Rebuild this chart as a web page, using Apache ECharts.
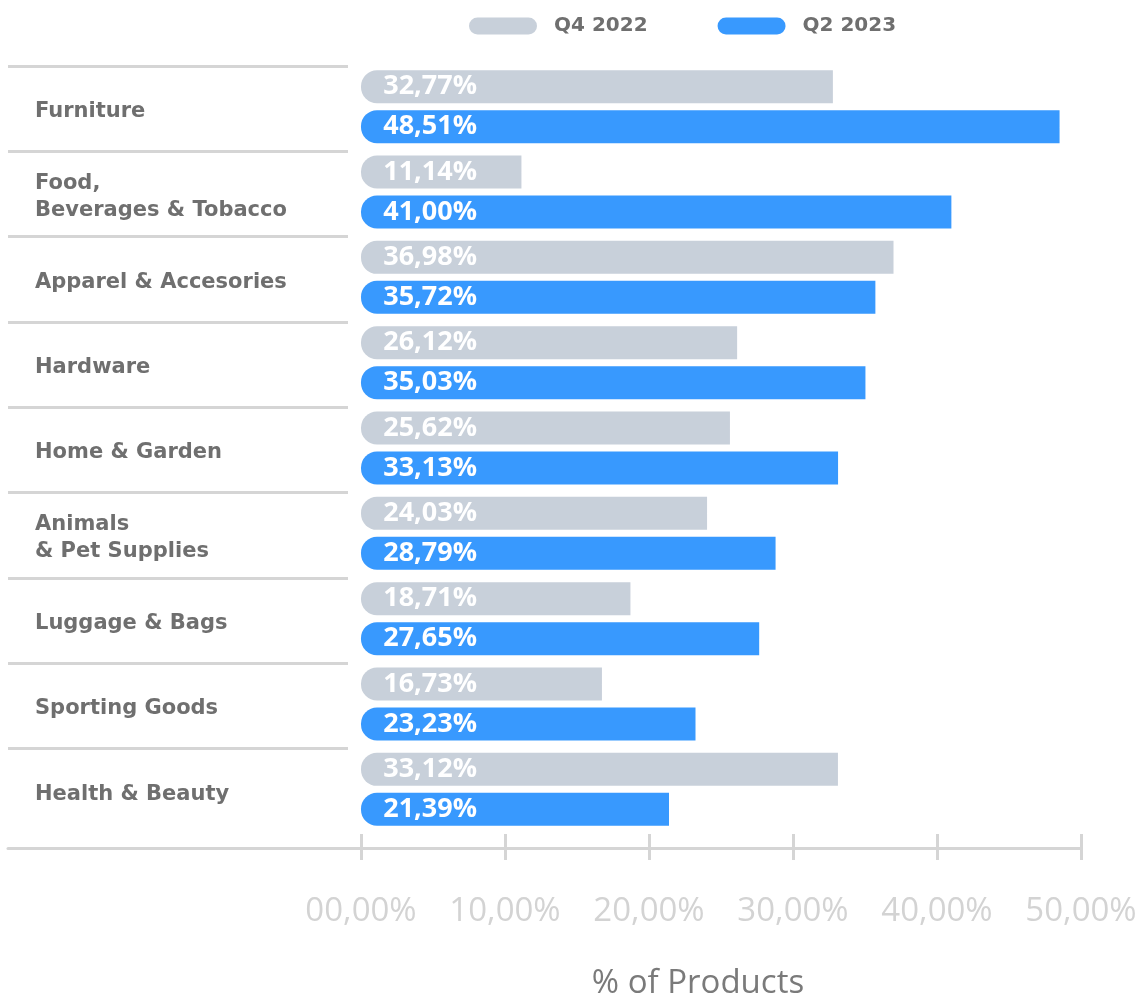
<!DOCTYPE html>
<html>
<head>
<meta charset="utf-8">
<script src="https://cdn.jsdelivr.net/npm/echarts@6/dist/echarts.min.js"></script>
<style>
  html, body { margin: 0; padding: 0; background: #ffffff; }
  #chart { width: 1140px; height: 995px; }
</style>
</head>
<body>
<div id="chart"></div>
<script>
// Product categories, top to bottom
const categories = [
  'Furniture',
  'Food,\nBeverages & Tobacco',
  'Apparel & Accesories',
  'Hardware',
  'Home & Garden',
  'Animals\n& Pet Supplies',
  'Luggage & Bags',
  'Sporting Goods',
  'Health & Beauty'
];

// Share of products (%) per period
const q4_2022 = [32.77, 11.14, 36.98, 26.12, 25.62, 24.03, 18.71, 16.73, 33.12];
const q2_2023 = [48.51, 41.00, 35.72, 35.03, 33.13, 28.79, 27.65, 23.23, 21.39];

const seriesNames = ['Q4 2022', 'Q2 2023'];
const xTicks = [0, 10, 20, 30, 40, 50];

const FONT = '"Open Sans", "Noto Sans", sans-serif';
const LABEL_FONT = '"DejaVu Sans", "Open Sans", sans-serif';
const GRAY_BAR = '#c8d0da';
const BLUE_BAR = '#3899fe';
const RULE = '#d5d5d5';

const pct = v => v.toFixed(2).replace('.', ',') + '%';
const tickFmt = v => (v < 10 ? '0' : '') + v + ',00%';

const chart = echarts.init(document.getElementById('chart'), null, { renderer: 'canvas' });

const barLabel = {
  show: true,
  position: [116, '50%'],
  align: 'right',
  verticalAlign: 'middle',
  color: '#ffffff',
  fontFamily: FONT,
  fontWeight: 700,
  fontSize: 27,
  formatter: p => pct(p.value)
};

const pillIcon = 'path://M2,0H14A2,2 0 0 1 14,4H2A2,2 0 0 1 2,0Z';

chart.setOption({
  backgroundColor: '#ffffff',
  animation: false,
  legend: {
    left: 469,
    top: 16,
    padding: 0,
    itemWidth: 68,
    itemHeight: 17,
    itemGap: 70,
    data: [
      { name: seriesNames[0], icon: pillIcon },
      { name: seriesNames[1], icon: pillIcon }
    ],
    textStyle: {
      color: '#6f6f6f',
      fontFamily: LABEL_FONT,
      fontWeight: 700,
      fontSize: 20,
      padding: [0, 0, 0, 12]
    }
  },
  grid: [
    // bars
    { left: 361, right: 59, top: 64, height: 768, outerBoundsMode: 'none', containLabel: false },
    // category separators
    { left: 8, width: 340, top: 66, height: 768, outerBoundsMode: 'none', containLabel: false },
    // category names and the baseline running under the label column
    { left: 8, width: 353, top: 69, height: 768, outerBoundsMode: 'none', containLabel: false }
  ],
  xAxis: [
    {
      gridIndex: 0,
      type: 'value',
      position: 'bottom',
      min: xTicks[0],
      max: xTicks[xTicks.length - 1],
      interval: 10,
      offset: 16,
      axisLine: { show: true, lineStyle: { color: RULE, width: 3 } },
      axisTick: { show: true, length: 12, lineStyle: { color: RULE, width: 3 } },
      splitLine: { show: false },
      axisLabel: {
        margin: 47,
        color: '#d3d3d3',
        fontFamily: FONT,
        fontSize: 33,
        formatter: tickFmt
      },
      name: '% of Products',
      nameLocation: 'middle',
      nameGap: 119,
      nameTextStyle: {
        color: '#7a7a7a',
        fontFamily: FONT,
        fontSize: 33,
        padding: [0, 46, 0, 0]
      }
    },
    {
      gridIndex: 0,
      type: 'value',
      position: 'bottom',
      min: xTicks[0],
      max: xTicks[xTicks.length - 1],
      interval: 10,
      offset: 16,
      axisLine: { show: false },
      axisTick: { show: true, inside: true, length: 14, lineStyle: { color: RULE, width: 3 } },
      axisLabel: { show: false },
      splitLine: { show: false }
    },
    { gridIndex: 1, type: 'value', min: 0, max: 1, show: false },
    {
      gridIndex: 2,
      type: 'value',
      min: 0,
      max: 1,
      offset: 11,
      axisLine: { show: true, lineStyle: { color: RULE, width: 3 } },
      axisTick: { show: false },
      axisLabel: { show: false },
      splitLine: { show: false }
    }
  ],
  yAxis: [
    {
      gridIndex: 0,
      type: 'category',
      inverse: true,
      data: categories,
      axisLine: { show: false },
      axisTick: { show: false },
      axisLabel: { show: false },
      splitLine: { show: false }
    },
    {
      gridIndex: 1,
      type: 'category',
      inverse: true,
      data: categories,
      axisLine: { show: false },
      axisTick: { show: false },
      axisLabel: { show: false },
      splitLine: {
        show: true,
        showMaxLine: false,
        lineStyle: { color: RULE, width: 3 }
      }
    },
    {
      gridIndex: 2,
      type: 'category',
      inverse: true,
      data: categories,
      axisLine: { show: false },
      axisTick: { show: false },
      splitLine: { show: false },
      axisLabel: {
        inside: true,
        margin: 27,
        align: 'left',
        color: '#6f6f6f',
        fontFamily: LABEL_FONT,
        fontWeight: 700,
        fontSize: 21,
        lineHeight: 27
      }
    }
  ],
  series: [
    {
      name: seriesNames[0],
      type: 'bar',
      xAxisIndex: 0,
      yAxisIndex: 0,
      data: q4_2022,
      barWidth: 33,
      barGap: '21%',
      itemStyle: { color: GRAY_BAR, borderRadius: [16, 0, 0, 16] },
      label: barLabel
    },
    {
      name: seriesNames[1],
      type: 'bar',
      xAxisIndex: 0,
      yAxisIndex: 0,
      data: q2_2023,
      barWidth: 33,
      barGap: '21%',
      itemStyle: { color: BLUE_BAR, borderRadius: [16, 0, 0, 16] },
      label: barLabel
    }
  ]
});
</script>
</body>
</html>
